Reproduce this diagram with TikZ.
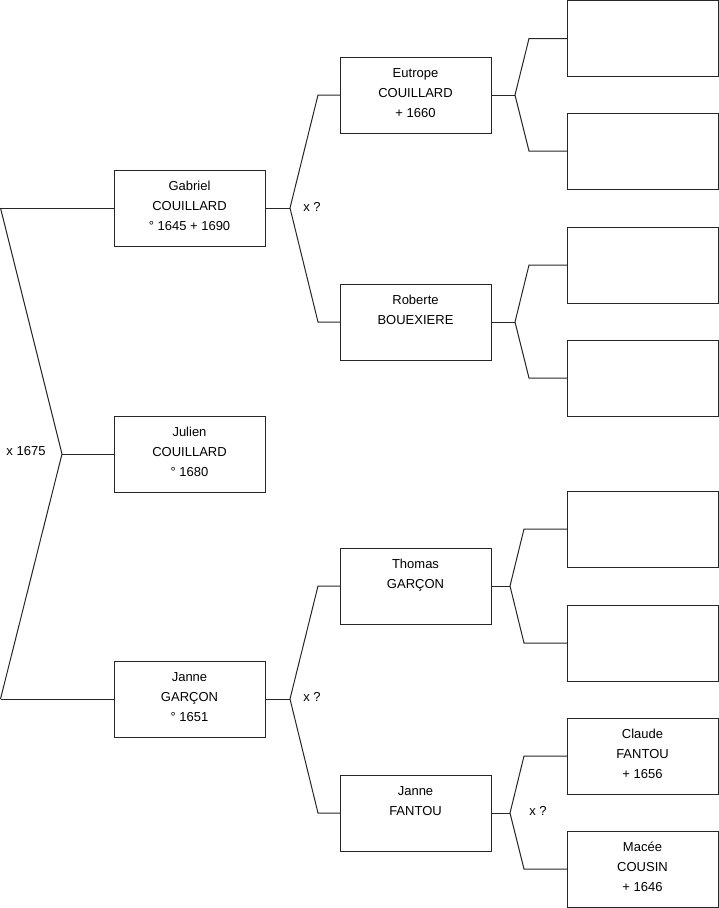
\documentclass[tikz,border=0pt]{standalone}
\usepackage{fontspec}
\setmainfont{Liberation Sans}
\begin{document}
\begin{tikzpicture}[x=1pt,y=-1pt,
  box/.style={draw=black!85,line width=1pt,minimum width=151pt,minimum height=76pt,inner sep=0pt,outer sep=0pt,anchor=north west},
  txt/.style={anchor=base,inner sep=0pt,font=\fontsize{13}{15}\selectfont},
  lbl/.style={inner sep=0pt,font=\fontsize{13}{15}\selectfont},
  conn/.style={draw=black!85,line width=1pt,line join=miter}]
\useasboundingbox (0,0) rectangle (719,908);
% boxes
\node[box] (gab) at (114,170) {};
\node[box] (jul) at (114,416) {};
\node[box] (jag) at (114,661) {};
\node[box] (eut) at (340,57) {};
\node[box] (rob) at (340,284) {};
\node[box] (tho) at (340,548) {};
\node[box] (jaf) at (340,775) {};
\node[box] (r1) at (567,0.5) {};
\node[box] (r2) at (567,113) {};
\node[box] (r3) at (567,227) {};
\node[box] (r4) at (567,340) {};
\node[box] (r5) at (567,491) {};
\node[box] (r6) at (567,605) {};
\node[box] (cla) at (567,718) {};
\node[box] (mac) at (567,831) {};
% texts
\node[txt] (gab1) at ([yshift=-20.5]gab.north) {Gabriel};
\node[txt] (gab2) at ([yshift=-40.5]gab.north) {COUILLARD};
\node[txt] (gab3) at ([yshift=-60.5]gab.north) {° 1645 + 1690};
\node[txt] (jul1) at ([yshift=-20.5]jul.north) {Julien};
\node[txt] (jul2) at ([yshift=-40.5]jul.north) {COUILLARD};
\node[txt] (jul3) at ([yshift=-60.5]jul.north) {° 1680};
\node[txt] (jag1) at ([yshift=-20.5]jag.north) {Janne};
\node[txt] (jag2) at ([yshift=-40.5]jag.north) {GARÇON};
\node[txt] (jag3) at ([yshift=-60.5]jag.north) {° 1651};
\node[txt] (eut1) at ([yshift=-20.5]eut.north) {Eutrope};
\node[txt] (eut2) at ([yshift=-40.5]eut.north) {COUILLARD};
\node[txt] (eut3) at ([yshift=-60.5]eut.north) {+ 1660};
\node[txt] (rob1) at ([yshift=-20.5]rob.north) {Roberte};
\node[txt] (rob2) at ([yshift=-40.5]rob.north) {BOUEXIERE};
\node[txt] (tho1) at ([yshift=-20.5]tho.north) {Thomas};
\node[txt] (tho2) at ([yshift=-40.5]tho.north) {GARÇON};
\node[txt] (jaf1) at ([yshift=-20.5]jaf.north) {Janne};
\node[txt] (jaf2) at ([yshift=-40.5]jaf.north) {FANTOU};
\node[txt] (cla1) at ([yshift=-20.5]cla.north) {Claude};
\node[txt] (cla2) at ([yshift=-40.5]cla.north) {FANTOU};
\node[txt] (cla3) at ([yshift=-60.5]cla.north) {+ 1656};
\node[txt] (mac1) at ([yshift=-20.5]mac.north) {Macée};
\node[txt] (mac2) at ([yshift=-40.5]mac.north) {COUSIN};
\node[txt] (mac3) at ([yshift=-60.5]mac.north) {+ 1646};
% labels
\node[lbl] (m1) at (26,451) {x 1675};
\node[lbl] (m2) at (312,207) {x ?};
\node[lbl] (m3) at (312,697) {x ?};
\node[lbl] (m4) at (538,811) {x ?};
% fork points
\coordinate (la) at (gab.west -| 0.5,0);
\coordinate (lb) at (jag.west -| 0.5,0);
\coordinate (fa) at (jul.west -| 62,0);
\coordinate (fg) at ([xshift=25]gab.east);
\coordinate (fj) at ([xshift=25]jag.east);
\coordinate (fe) at ([xshift=24]eut.east);
\coordinate (fr) at ([xshift=24]rob.east);
\coordinate (ft) at ([xshift=19]tho.east);
\coordinate (ff) at ([xshift=19]jaf.east);
% connectors
\draw[conn] (la) -- (gab.west);
\draw[conn] (lb) -- (jag.west);
\draw[conn] (la) -- (fa) -- (lb);
\draw[conn] (fa) -- (jul.west);
\draw[conn] (gab.east) -- (fg);
\draw[conn] (eut.west) -- ++(-22,0) -- (fg) -- ([xshift=-22]rob.west) -- (rob.west);
\draw[conn] (jag.east) -- (fj);
\draw[conn] (tho.west) -- ++(-22,0) -- (fj) -- ([xshift=-22]jaf.west) -- (jaf.west);
\draw[conn] (eut.east) -- (fe);
\draw[conn] (r1.west) -- ++(-38,0) -- (fe) -- ([xshift=-38]r2.west) -- (r2.west);
\draw[conn] (rob.east) -- (fr);
\draw[conn] (r3.west) -- ++(-38,0) -- (fr) -- ([xshift=-38]r4.west) -- (r4.west);
\draw[conn] (tho.east) -- (ft);
\draw[conn] (r5.west) -- ++(-43,0) -- (ft) -- ([xshift=-43]r6.west) -- (r6.west);
\draw[conn] (jaf.east) -- (ff);
\draw[conn] (cla.west) -- ++(-43,0) -- (ff) -- ([xshift=-43]mac.west) -- (mac.west);
\end{tikzpicture}
\end{document}
